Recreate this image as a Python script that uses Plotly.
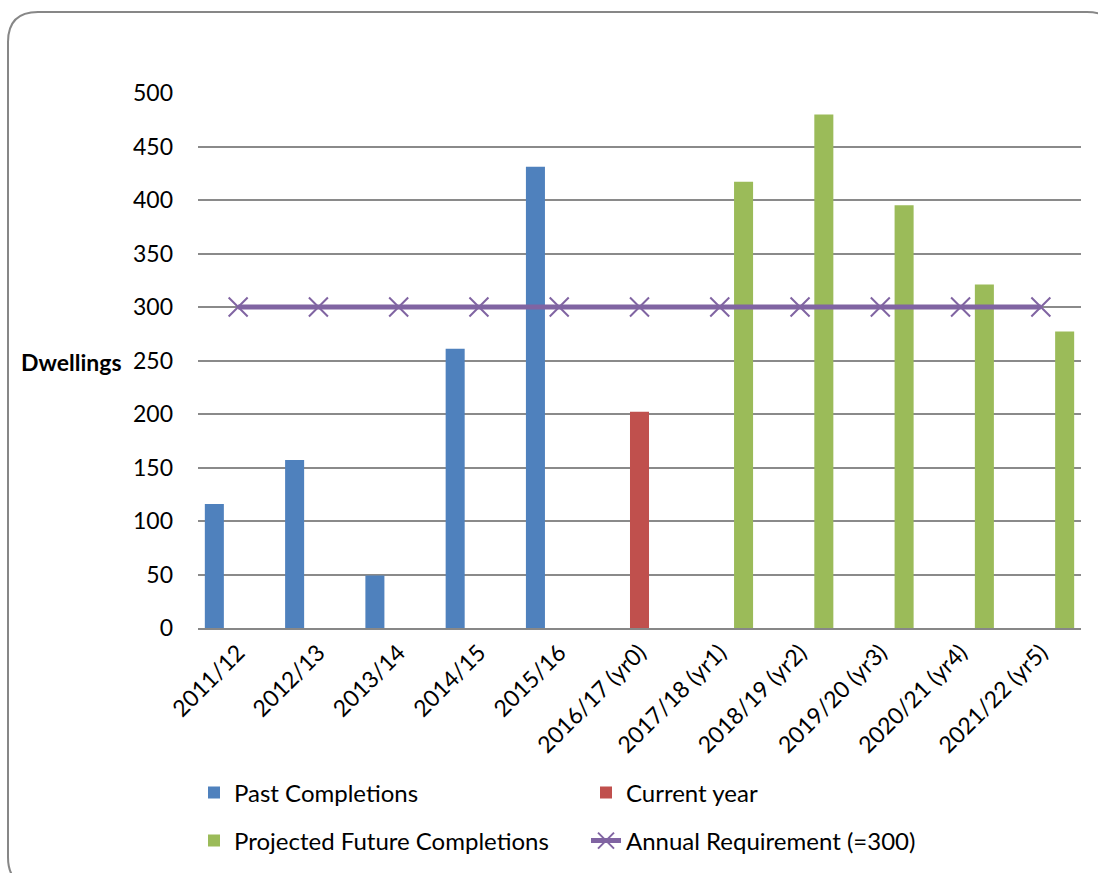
import plotly.graph_objects as go

categories = ["2011/12", "2012/13", "2013/14", "2014/15", "2015/16", "2016/17 (yr0)",
              "2017/18 (yr1)", "2018/19 (yr2)", "2019/20 (yr3)", "2020/21 (yr4)", "2021/22 (yr5)"]
past_completions = [116, 157, 49, 261, 431, None, None, None, None, None, None]
current_year = [None, None, None, None, None, 202, None, None, None, None, None]
projected_future = [None, None, None, None, None, None, 417, 480, 395, 321, 277]
annual_requirement = [300] * 11
y_ticks = [0, 50, 100, 150, 200, 250, 300, 350, 400, 450, 500]

W, H = 1098, 873
ML, MR, MT, MB = 198, 17, 93, 245
PW, PH = W - ML - MR, H - MT - MB

def fx(px):
    return (px - ML) / PW

def fy(py):
    return (H - MB - py) / PH

FONT = "Lato, Carlito, Calibri, sans-serif"
FS = 23
LFS = 24

fig = go.Figure()
fig.add_trace(go.Bar(x=categories, y=past_completions, name="Past Completions",
                     marker=dict(color="#4F81BD", line=dict(width=0)), legend="legend"))
fig.add_trace(go.Bar(x=categories, y=current_year, name="Current year",
                     marker=dict(color="#C0504D", line=dict(width=0)), legend="legend"))
fig.add_trace(go.Bar(x=categories, y=projected_future, name="Projected Future Completions",
                     marker=dict(color="#9BBB59", line=dict(width=0)), legend="legend2"))
fig.add_trace(go.Scatter(x=categories, y=annual_requirement, name="Annual Requirement (=300)",
                         mode="lines+markers",
                         line=dict(color="#8064A2", width=5),
                         marker=dict(symbol="x-thin", size=19, color="#8064A2",
                                     line=dict(color="#8064A2", width=2)),
                         legend="legend2"))

# rounded frame
L, T, R, B, r = 8, 12, 1117, 887, 30
path = (f"M{fx(L+r)},{fy(T)} L{fx(R-r)},{fy(T)} Q{fx(R)},{fy(T)} {fx(R)},{fy(T+r)} "
        f"L{fx(R)},{fy(B-r)} Q{fx(R)},{fy(B)} {fx(R-r)},{fy(B)} "
        f"L{fx(L+r)},{fy(B)} Q{fx(L)},{fy(B)} {fx(L)},{fy(B-r)} "
        f"L{fx(L)},{fy(T+r)} Q{fx(L)},{fy(T)} {fx(L+r)},{fy(T)} Z")

fig.update_layout(
    width=W, height=H,
    margin=dict(l=ML, r=MR, t=MT, b=MB, autoexpand=False),
    paper_bgcolor="white", plot_bgcolor="white",
    font=dict(family=FONT, size=FS, color="#000000"),
    barmode="group", bargap=0.111, bargroupgap=0.2,
    showlegend=True,
    legend=dict(orientation="h", x=fx(194), y=fy(793), xanchor="left", yanchor="middle",
                entrywidth=347, entrywidthmode="pixels",
                font=dict(family=FONT, size=LFS), bgcolor="rgba(0,0,0,0)",
                itemclick=False, traceorder="normal"),
    legend2=dict(orientation="h", x=fx(194), y=fy(841), xanchor="left", yanchor="middle",
                 entrywidth=347, entrywidthmode="pixels",
                 font=dict(family=FONT, size=LFS), bgcolor="rgba(0,0,0,0)",
                 itemclick=False, traceorder="normal"),
    xaxis=dict(type="category", range=[-0.5, 10.5], tickangle=-45, showgrid=False, ticks="",
               showline=True, linecolor="#878787", linewidth=2, automargin=False,
               tickfont=dict(family=FONT, size=FS), fixedrange=True),
    yaxis=dict(range=[0, 500], tickvals=y_ticks, showgrid=True, gridcolor="#8a8a8a",
               gridwidth=1.5, zeroline=False, showline=False, ticks="", automargin=False,
               ticklabelstandoff=24, tickfont=dict(family=FONT, size=FS), fixedrange=True),
    shapes=[dict(type="path", path=path, xref="paper", yref="paper",
                 line=dict(color="#878787", width=2), fillcolor="rgba(0,0,0,0)", layer="above")],
    annotations=[dict(text="<b>Dwellings</b>", xref="paper", yref="paper",
                      x=fx(124), y=fy(362), xanchor="right", yanchor="middle",
                      showarrow=False, font=dict(family=FONT, size=FS, color="#000000"))],
)

fig.write_html("out.html")
